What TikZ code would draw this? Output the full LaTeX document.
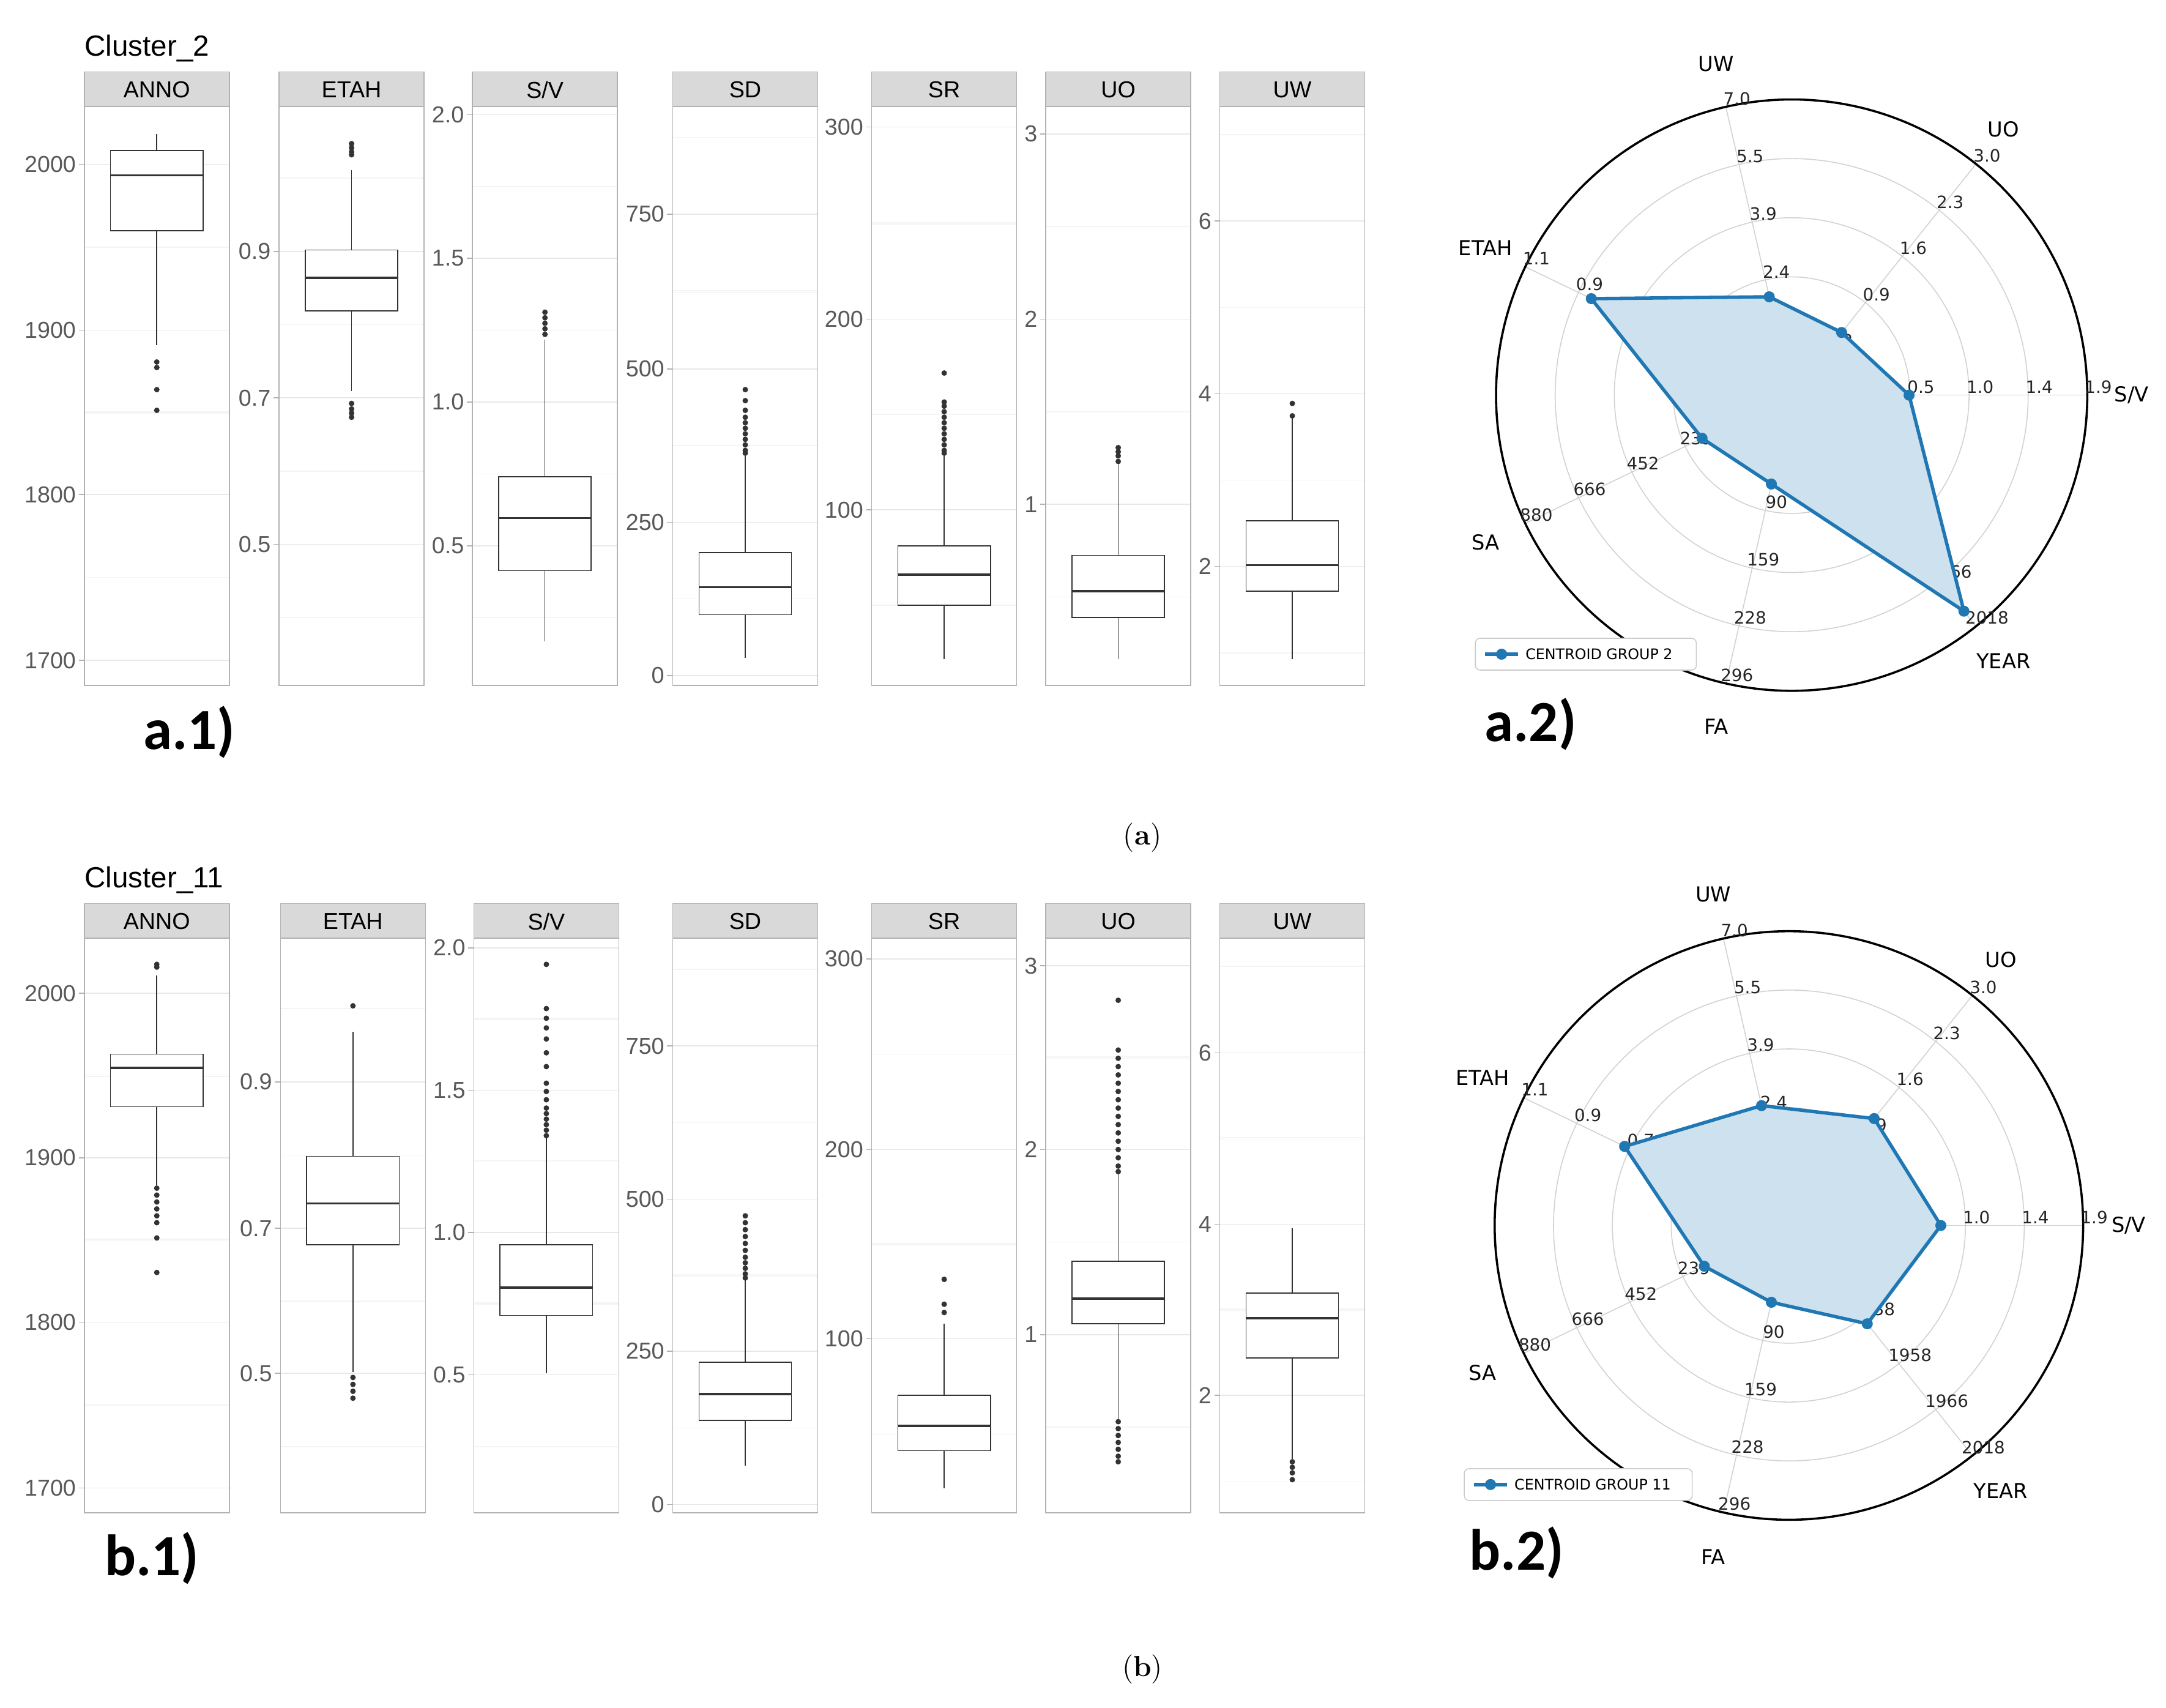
\documentclass[tikz,border=0pt]{standalone}
\usepackage{fontspec}
\newfontfamily\arial{Liberation Sans}
\newfontfamily\dv{DejaVu Sans}
\newfontfamily\calib{Carlito}
\definecolor{pb}{HTML}{1F77B4}
\tikzset{
 tick/.style={anchor=east,font=\arial\fontsize{9.5}{10}\selectfont,text=black!65,inner sep=1pt},
 strip/.style={font=\arial\fontsize{9.5}{10}\selectfont},
 rt/.style={font=\dv\fontsize{7}{7}\selectfont,text=black!85,inner sep=0pt},
 rn/.style={font=\dv\fontsize{8.5}{9}\selectfont,inner sep=0pt},
 big/.style={font=\calib\bfseries\fontsize{24}{24}\selectfont},
}
\newcommand\bpanel[6]{%
 \begin{scope}
 \clip (#1,#2+25) rectangle (#1+105,#3);
 \foreach \l/\y in {#5}{\draw[gray!18] (#1,\y)--++(105,0);
   \draw[gray!9] (#1,\y-#6/2)--++(105,0); \draw[gray!9] (#1,\y+#6/2)--++(105,0);}
 \end{scope}
 \draw[gray!60] (#1,#2+25) rectangle (#1+105,#3);
 \draw[gray!60,fill=gray!30] (#1,#2) rectangle (#1+105,#2+25);
 \node[strip] at (#1+52.5,#2+13) {#4};
 \foreach \l/\y in {#5}{\draw[gray!60] (#1-4,\y)--(#1,\y); \node[tick] at (#1-4,\y) {\l};}
}
\newcommand\bbox[7]{%
 \draw[black!80] (#1+52.5,#2)--(#1+52.5,#3);
 \draw[black!80] (#1+52.5,#5)--(#1+52.5,#6);
 \draw[black!80,fill=white] (#1+19,#3) rectangle (#1+86,#5);
 \draw[black!80,line width=0.9pt] (#1+19,#4)--(#1+86,#4);
 \foreach \o in {#7} \fill[black!80] (#1+52.5,\o) circle[radius=2];
}
\newcommand\radarbase[3]{%
 \begin{scope}[shift={(#1,#2)},x=0.02cm,y=0.02cm]
 \foreach \k in {1,...,4} \draw[gray!35] (0,0) circle[radius=\k*#3/5];
 \foreach \a in {0,...,6} \draw[gray!35] (0,0)--(\a*360/7:#3);
 \draw[black,line width=0.9pt] (0,0) circle[radius=#3];
 \foreach \v [count=\k] in {0.1,0.5,1.0,1.4,1.9} \path (0:{\k*#3/5}) ++(8,6) node[rt]{\v};
 \foreach \v [count=\k] in {0.2,0.9,1.6,2.3,3.0} \path (51.43:{\k*#3/5}) ++(8,6) node[rt]{\v};
 \foreach \v [count=\k] in {0.9,2.4,3.9,5.5,7.0} \path (102.86:{\k*#3/5}) ++(8,6) node[rt]{\v};
 \foreach \v [count=\k] in {0.3,0.5,0.7,0.9,1.1} \path (154.29:{\k*#3/5}) ++(8,6) node[rt]{\v};
 \foreach \v [count=\k] in {25,239,452,666,880} \path (205.71:{\k*#3/5}) ++(8,6) node[rt]{\v};
 \foreach \v [count=\k] in {22,90,159,228,296} \path (257.14:{\k*#3/5}) ++(8,6) node[rt]{\v};
 \foreach \v [count=\k] in {1700,1938,1958,1966,2018} \path (308.57:{\k*#3/5}) ++(8,6) node[rt]{\v};
 \foreach \n [count=\k from 0] in {S/V,UO,UW,ETAH,SA,FA,YEAR} \node[rn] at (\k*51.43:246) {\n};
 \end{scope}
}
\newcommand\poly[9]{%
 \begin{scope}[shift={(#1,#2)},x=0.02cm,y=0.02cm]
 \draw[pb,line width=1.4pt,fill=pb!22,line join=round] (0:#3)--(51.43:#4)--(102.86:#5)--(154.29:#6)--(205.71:#7)--(257.14:#8)--(308.57:#9)--cycle;
 \foreach \a/\r in {0/#3,51.43/#4,102.86/#5,154.29/#6,205.71/#7,257.14/#8,308.57/#9} \fill[pb] (\a:\r) circle[radius=4];
 \end{scope}
}
\newcommand\legend[4]{%
 \draw[gray!40,fill=white,rounded corners=2] (#1,#2) rectangle (#3,#2+23);
 \draw[pb,line width=1.4pt] (#1+7,#2+11.5)--(#1+31,#2+11.5);
 \fill[pb] (#1+19,#2+11.5) circle[radius=4];
 \node[anchor=west,font=\dv\fontsize{6}{6}\selectfont,inner sep=0pt] at (#1+36,#2+11.5) {#4};
}
\begin{document}
\begin{tikzpicture}[x=0.02cm,y=-0.02cm]
\useasboundingbox (0,0) rectangle (1568,1236);
\fill[white] (0,0) rectangle (1568,1236);
% ---------- a.1
\node[anchor=west,font=\arial\fontsize{12}{12}\selectfont,inner sep=0pt] at (61,35) {Cluster\_2};
\bpanel{61}{52}{496}{ANNO}{2000/119,1900/239,1800/358,1700/478}{120}
\bbox{61}{97}{109}{127}{167}{250}{262,266,282,297}
\bpanel{202}{52}{496}{ETAH}{0.9/182,0.7/288,0.5/394}{106}
\bbox{202}{123}{181}{201}{225}{283}{104,107,110,112,292,296,299,302}
\bpanel{342}{52}{496}{S/V}{2.0/83,1.5/187,1.0/291,0.5/395}{104}
\bbox{342}{246}{345}{375}{413}{464}{226,230,234,238,242}
\bpanel{487}{52}{496}{SD}{750/155,500/267,250/378,0/489}{111}
\bbox{487}{330}{400}{425}{445}{476}{282,290,297,302,306,310,314,318,322,326,328}
\bpanel{631}{52}{496}{SR}{300/92,200/231,100/369}{138}
\bbox{631}{330}{395}{416}{438}{477}{270,291,294,298,302,306,310,314,318,322,326,328}
\bpanel{757}{52}{496}{UO}{3/97,2/231,1/365}{134}
\bbox{757}{336}{402}{428}{447}{477}{324,327,330,334}
\bpanel{883}{52}{496}{UW}{6/160,4/285,2/410}{125}
\bbox{883}{300}{377}{409}{428}{477}{292,301}
\node[big] at (137,530) {a.1)};
% ---------- b.1
\node[anchor=west,font=\arial\fontsize{12}{12}\selectfont,inner sep=0pt] at (61,637) {Cluster\_11};
\bpanel{61}{654}{1095}{ANNO}{2000/719,1900/838,1800/957,1700/1077}{120}
\bbox{61}{706}{763}{773}{801}{858}{698,700,860,865,870,875,880,885,896,921}
\bpanel{203}{654}{1095}{ETAH}{0.9/783,0.7/889,0.5/994}{106}
\bbox{203}{747}{837}{871}{901}{993}{728,997,1002,1007,1012}
\bpanel{343}{654}{1095}{S/V}{2.0/686,1.5/789,1.0/892,0.5/995}{104}
\bbox{343}{822}{901}{932}{952}{994}{698,730,737,744,752,762,772,784,790,796,802,806,810,814,818,822}
\bpanel{487}{654}{1095}{SD}{750/757,500/868,250/978,0/1089}{111}
\bbox{487}{925}{986}{1009}{1028}{1061}{880,885,890,895,900,905,910,914,918,922,925}
\bpanel{631}{654}{1095}{SR}{300/694,200/832,100/969}{138}
\bbox{631}{958}{1010}{1032}{1050}{1077}{926,944,950}
\bpanel{757}{654}{1095}{UO}{3/699,2/832,1/966}{134}
\bbox{757}{848}{913}{940}{958}{1027}{724,760,766,772,778,784,790,796,802,808,814,820,826,832,838,844,848,1029,1034,1039,1044,1049,1054,1058}
\bpanel{883}{654}{1095}{UW}{6/762,4/886,2/1010}{125}
\bbox{883}{889}{936}{954}{983}{1056}{1058,1062,1066,1071}
\node[big] at (110,1128) {b.1)};
% ---------- radars
\radarbase{1297}{286}{214}
\poly{1297}{286}{85}{58}{73}{161}{72}{66}{200}
\legend{1068}{462}{1228}{CENTROID GROUP 2}
\node[big] at (1108,524) {a.2)};
\radarbase{1295}{887}{213}
\poly{1295}{887}{110}{99}{89}{132}{68}{57}{91}
\legend{1060}{1063}{1225}{CENTROID GROUP 11}
\node[big] at (1098,1124) {b.2)};
% captions
\node[font=\fontsize{12}{12}\selectfont] at (827,606) {(\textbf{a})};
\node[font=\fontsize{12}{12}\selectfont] at (827,1208) {(\textbf{b})};
\end{tikzpicture}
\end{document}
